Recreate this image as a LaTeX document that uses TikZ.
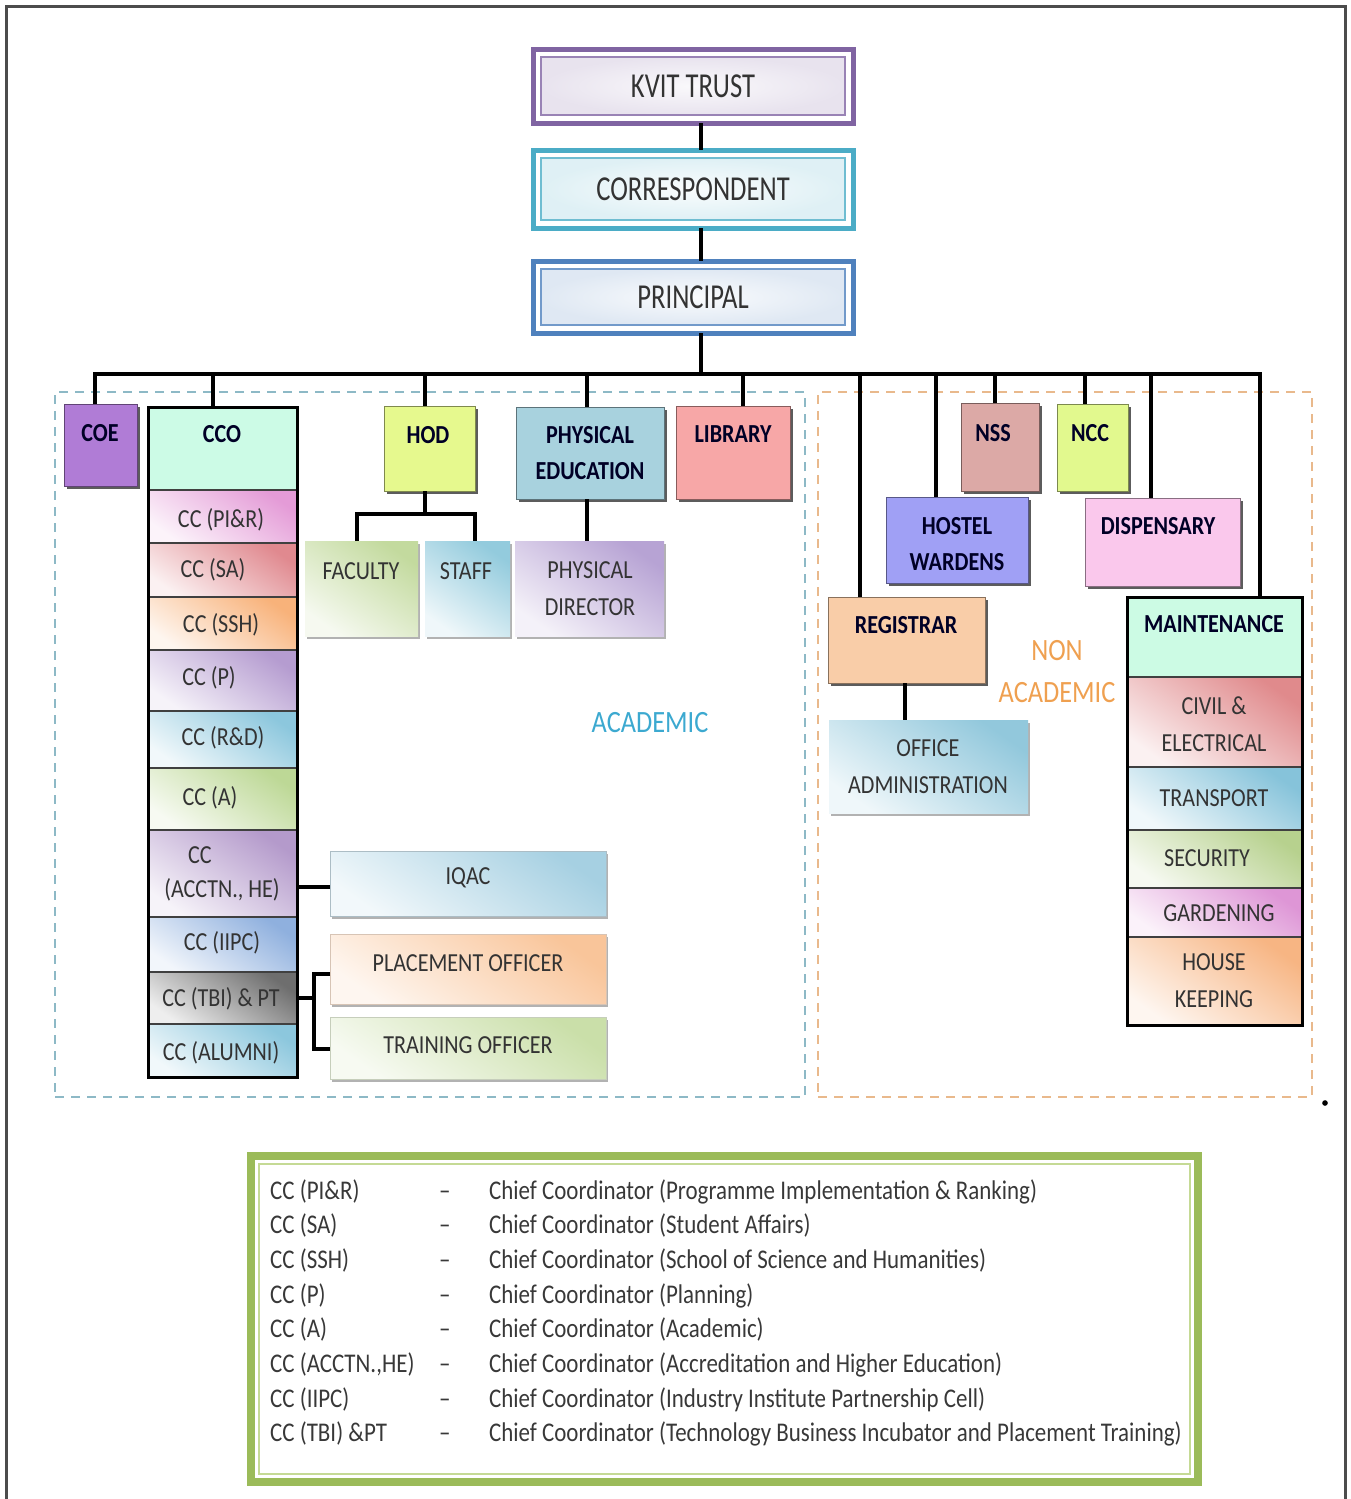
\documentclass[tikz,border=0pt]{standalone}
\usepackage{fontspec}
\setmainfont{Carlito}[FakeStretch=0.85]
\newfontfamily\condfont{Carlito}[FakeStretch=0.76]
\usetikzlibrary{fit,shadows,calc}
\definecolor{kvitc}{HTML}{8064A2}
\definecolor{corrc}{HTML}{4BACC6}
\definecolor{princc}{HTML}{4F81BD}
\definecolor{coec}{HTML}{B07CD6}
\definecolor{ccoc}{HTML}{CCFBE6}
\definecolor{hodc}{HTML}{E6F98E}
\definecolor{pec}{HTML}{A8D2DE}
\definecolor{libc}{HTML}{F7A7A7}
\definecolor{nssc}{HTML}{DCA9A6}
\definecolor{nccc}{HTML}{E2F98E}
\definecolor{hostc}{HTML}{A0A0F5}
\definecolor{dispc}{HTML}{FAC8EC}
\definecolor{regc}{HTML}{F9CDA8}
\definecolor{maintc}{HTML}{CCFBE4}
\definecolor{c1}{HTML}{E49BD7}
\definecolor{c2}{HTML}{E0898F}
\definecolor{c3}{HTML}{F8B27A}
\definecolor{c4}{HTML}{B59CD0}
\definecolor{c5}{HTML}{8CC7DD}
\definecolor{c6}{HTML}{BDD896}
\definecolor{c7}{HTML}{B49ACB}
\definecolor{c8}{HTML}{8FB0DE}
\definecolor{c9}{HTML}{6E6E6E}
\definecolor{facc}{HTML}{C3DA9E}
\definecolor{staffc}{HTML}{93CBDD}
\definecolor{pdc}{HTML}{B7A3D4}
\definecolor{iqc}{HTML}{A6D0E2}
\definecolor{plc}{HTML}{F9C59A}
\definecolor{trc}{HTML}{CADFA9}
\definecolor{offc}{HTML}{92C8DC}
\definecolor{m1}{HTML}{E08A8C}
\definecolor{m2}{HTML}{86C3DA}
\definecolor{m3}{HTML}{B7D18E}
\definecolor{m4}{HTML}{DE96D6}
\definecolor{m5}{HTML}{F7B583}
\definecolor{acadc}{HTML}{3CA9D0}
\definecolor{nonc}{HTML}{EFA050}
\definecolor{acadline}{HTML}{8DB9C6}
\definecolor{nonline}{HTML}{E9B98C}
\definecolor{legc}{HTML}{9BBB59}
\definecolor{legin}{HTML}{C5DA95}
\definecolor{txt}{HTML}{333333}
\begin{document}
\begin{tikzpicture}[x=1pt,y=-1pt,
  conn/.style={line width=3.5pt, black, line join=miter},
  fitbox/.style={inner sep=0pt, outer sep=0pt},
  obox/.style={fitbox, draw=#1!55!black, fill=#1, line width=1pt,
    drop shadow={shadow xshift=2.5pt, shadow yshift=-3pt, opacity=0.75, fill=black!85}},
  gbox/.style={fitbox, top color=#1, bottom color=#1!15!white, shading angle=-35,
    drop shadow={shadow xshift=2pt, shadow yshift=-3pt, opacity=0.3, fill=black}},
  cell/.style={fitbox, top color=#1, bottom color=#1!12!white, shading angle=-35,
    draw=black!75, line width=1.2pt},
  blbl/.style={font=\bfseries\fontsize{26}{36}\selectfont, text=black!85!blue, align=center, inner sep=0pt},
  rlbl/.style={font=\fontsize{26}{37}\selectfont, text=txt, align=center, inner sep=0pt},
  toplbl/.style={font=\condfont\fontsize{35}{40}\selectfont, text=txt, inner sep=0pt},
  leg/.style={font=\fontsize{27}{30}\selectfont, text=black!78, anchor=base west, inner sep=0pt},
  frame/.style={fitbox, draw=black, line width=3pt},
]
\useasboundingbox (0,0) rectangle (1351,1499);
% page frame
\node[fit={(6,6)(1345,1520)}, fitbox, draw=black!70, line width=3pt] (page) {};

% regions
\node[fit={(55,392)(805,1097)}, fitbox, draw=acadline, line width=2.5pt, dash pattern=on 9pt off 7pt] (acad) {};
\node[fit={(818,392)(1312,1097)}, fitbox, draw=nonline, line width=2.5pt, dash pattern=on 9pt off 7pt] (nonacad) {};
\node[font=\fontsize{31}{36}\selectfont, text=acadc, inner sep=0pt] (acadt) at (650,723) {ACADEMIC};
\node[font=\fontsize{31}{42}\selectfont, text=nonc, align=center, inner sep=0pt] (nont) at (1057,672) {NON\\ACADEMIC};

% top boxes
\node[fit={(533,49)(853,123)}, fitbox, draw=kvitc, line width=5pt, fill=white] (kvit) {};
\node[fit={(541,57)(845,115)}, fitbox, draw=kvitc!80, line width=1.5pt, inner color=kvitc!4, outer color=kvitc!18] (kvitin) {};
\node[toplbl] (kvitt) at (kvit) {KVIT TRUST};
\node[fit={(533,150)(853,228)}, fitbox, draw=corrc, line width=5pt, fill=white] (corr) {};
\node[fit={(541,158)(845,220)}, fitbox, draw=corrc!80, line width=1.5pt, inner color=corrc!3, outer color=corrc!18] (corrin) {};
\node[toplbl] (corrt) at (corr) {CORRESPONDENT};
\node[fit={(533,261)(853,333)}, fitbox, draw=princc, line width=5pt, fill=white] (princ) {};
\node[fit={(541,269)(845,325)}, fitbox, draw=princc!80, line width=1.5pt, inner color=princc!3, outer color=princc!18] (princin) {};
\node[toplbl] (princt) at (princ) {PRINCIPAL};

% connectors
\coordinate (tx) at (701,0);
\draw[conn] (kvit.south -| tx) -- (corr.north -| tx);
\draw[conn] (corr.south -| tx) -- (princ.north -| tx);
\coordinate (bus) at (701,374);
\draw[conn] (princ.south -| tx) -- (bus);
\coordinate (b1) at (95,374);
\coordinate (b2) at (213,374);
\coordinate (b3) at (425,374);
\coordinate (b4) at (587,374);
\coordinate (b5) at (743,374);
\coordinate (b6) at (860,374);
\coordinate (b7) at (936,374);
\coordinate (b8) at (995,374);
\coordinate (b9) at (1085,374);
\coordinate (b10) at (1151,374);
\coordinate (b11) at (1260,374);

% first-level boxes
\node[fit={(64,404)(137,486)}, obox=coec] (coe) {};
\node[blbl] (coet) at (100,433) {COE};
\node[fit={(384,406)(475,491)}, obox=hodc] (hod) {};
\node[blbl] (hodt) at (428,435) {HOD};
\node[fit={(516,407)(664,499)}, obox=pec] (phed) {};
\node[blbl] (phedt) at (590,453) {PHYSICAL\\EDUCATION};
\node[fit={(676,406)(790,499)}, obox=libc] (lib) {};
\node[blbl] (libt) at (733,434) {LIBRARY};
\node[fit={(961,403)(1039,491)}, obox=nssc] (nss) {};
\node[blbl] (nsst) at (993,433) {NSS};
\node[fit={(1057,404)(1128,491)}, obox=nccc] (ncc) {};
\node[blbl] (ncct) at (1090,433) {NCC};
\node[fit={(886,497)(1028,583)}, obox=hostc] (host) {};
\node[blbl] (hostt) at (957,544) {HOSTEL\\WARDENS};
\node[fit={(1085,498)(1240,586)}, obox=dispc] (disp) {};
\node[blbl] (dispt) at (1158,526) {DISPENSARY};
\node[fit={(828,597)(985,683)}, obox=regc] (reg) {};
\node[blbl] (regt) at (906,625) {REGISTRAR};

% bus and branches
\draw[conn] (coe.north -| b1) -- (b1) -- (b11) -- (b11 |- 0,597);
\draw[conn] (b2) -- (b2 |- 0,407);
\draw[conn] (b3) -- (hod.north -| b3);
\draw[conn] (b4) -- (phed.north -| b4);
\draw[conn] (b5) -- (lib.north -| b5);
\draw[conn] (b6) -- (reg.north -| b6);
\draw[conn] (b7) -- (host.north -| b7);
\draw[conn] (b8) -- (nss.north -| b8);
\draw[conn] (b9) -- (ncc.north -| b9);
\draw[conn] (b10) -- (disp.north -| b10);

% CCO column
\node[fit={(148,407)(297,490)}, fitbox, fill=ccoc] (cco) {};
\node[blbl] (ccot) at (222,434) {CCO};
\node[fit={(148,490)(297,543)}, cell=c1] (cc1) {};
\node[fit={(148,543)(297,597)}, cell=c2] (cc2) {};
\node[fit={(148,597)(297,650)}, cell=c3] (cc3) {};
\node[fit={(148,650)(297,711)}, cell=c4] (cc4) {};
\node[fit={(148,711)(297,768)}, cell=c5] (cc5) {};
\node[fit={(148,768)(297,830)}, cell=c6] (cc6) {};
\node[fit={(148,830)(297,917)}, cell=c7] (cc7) {};
\node[fit={(148,917)(297,972)}, cell=c8] (cc8) {};
\node[fit={(148,972)(297,1024)}, cell=c9] (cc9) {};
\node[fit={(148,1024)(297,1077)}, cell=c5] (cc10) {};
\node[fit={(148,407)(297,1077)}, frame] (ccoframe) {};
\node[rlbl] (cc1t) at (221,520) {CC (PI\&R)};
\node[rlbl] (cc2t) at (213,570) {CC (SA)};
\node[rlbl] (cc3t) at (221,625) {CC (SSH)};
\node[rlbl] (cc4t) at (209,678) {CC (P)};
\node[rlbl] (cc5t) at (223,738) {CC (R\&D)};
\node[rlbl] (cc6t) at (210,798) {CC (A)};
\node[rlbl] (cc7t) at (200,855) {CC};
\node[rlbl] (cc7u) at (222,890) {(ACCTN., HE)};
\node[rlbl] (cc8t) at (222,943) {CC (IIPC)};
\node[rlbl] (cc9t) at (221,999) {CC (TBI) \& PT};
\node[rlbl] (cc10t) at (221,1053) {CC (ALUMNI)};

% HOD / PE children
\node[fit={(305,541)(418,636)}, gbox=facc] (fac) {};
\node[rlbl] (fact) at (361,571) {FACULTY};
\node[fit={(425,541)(510,636)}, gbox=staffc] (staff) {};
\node[rlbl] (stafft) at (466,571) {STAFF};
\node[fit={(515,541)(664,636)}, gbox=pdc] (pd) {};
\node[rlbl] (pdt) at (590,589) {PHYSICAL\\DIRECTOR};
\coordinate (hj) at (425,514);
\coordinate (hf) at (357,514);
\coordinate (hs) at (475,514);
\draw[conn] (hod.south -| hj) -- (hj);
\draw[conn] (fac.north -| hf) -- (hf) -- (hs) -- (staff.north -| hs);
\coordinate (pe) at (587,0);
\draw[conn] (phed.south -| pe) -- (pd.north -| pe);

% IQAC, placement, training
\node[fit={(330,851)(606,916)}, gbox=iqc, draw=iqc!70!black!60, line width=0.8pt] (iqac) {};
\node[rlbl] (iqact) at (468,878) {IQAC};
\node[fit={(330,934)(606,1004)}, gbox=plc, draw=plc!70!black!50, line width=0.8pt] (place) {};
\node[rlbl] (placet) at (468,963) {PLACEMENT OFFICER};
\node[fit={(330,1017)(606,1079)}, gbox=trc, draw=trc!70!black!50, line width=0.8pt] (train) {};
\node[rlbl] (traint) at (468,1045) {TRAINING OFFICER};
\coordinate (iq) at (298,887);
\draw[conn] (iq) -- (iq -| iqac.west);
\coordinate (tj) at (298,998);
\coordinate (tv) at (314,998);
\coordinate (pl) at (314,974);
\coordinate (tr) at (314,1049);
\draw[conn] (tj) -- (tv);
\draw[conn] (place.west |- pl) -- (pl) -- (tr) -- (train.west |- tr);

% Registrar child
\node[fit={(829,720)(1028,813)}, gbox=offc] (office) {};
\node[rlbl] (officet) at (928,767) {OFFICE\\ADMINISTRATION};
\coordinate (ro) at (905,0);
\draw[conn] (reg.south -| ro) -- (office.north -| ro);

% Maintenance column
\node[fit={(1127,597)(1302,677)}, fitbox, fill=maintc] (maint) {};
\node[blbl] (maintt) at (1214,624) {MAINTENANCE};
\node[fit={(1127,677)(1302,767)}, cell=m1] (mt1) {};
\node[fit={(1127,767)(1302,830)}, cell=m2] (mt2) {};
\node[fit={(1127,830)(1302,888)}, cell=m3] (mt3) {};
\node[fit={(1127,888)(1302,937)}, cell=m4] (mt4) {};
\node[fit={(1127,937)(1302,1025)}, cell=m5] (mt5) {};
\node[fit={(1127,597)(1302,1025)}, frame] (mframe) {};
\node[rlbl] (mt1t) at (1214,724) {CIVIL \&\\ELECTRICAL};
\node[rlbl] (mt2t) at (1214,798) {TRANSPORT};
\node[rlbl] (mt3t) at (1207,858) {SECURITY};
\node[rlbl] (mt4t) at (1219,913) {GARDENING};
\node[rlbl] (mt5t) at (1214,981) {HOUSE\\KEEPING};
\node[fit={(1323,1101)(1327,1105)}, fitbox, fill=black, circle] (dot) {};

% legend
\node[fit={(251,1156)(1198,1482)}, fitbox, draw=legc, line width=8pt] (legend) {};
\node[fit={(259,1164)(1190,1474)}, fitbox, draw=legin, line width=2pt] (legendin) {};
\foreach \i/\a/\d in {
  0/{CC (PI\&R)}/{Chief Coordinator (Programme Implementation \& Ranking)},
  1/{CC (SA)}/{Chief Coordinator (Student Affairs)},
  2/{CC (SSH)}/{Chief Coordinator (School of Science and Humanities)},
  3/{CC (P)}/{Chief Coordinator (Planning)},
  4/{CC (A)}/{Chief Coordinator (Academic)},
  5/{CC (ACCTN.,HE)}/{Chief Coordinator (Accreditation and Higher Education)},
  6/{CC (IIPC)}/{Chief Coordinator (Industry Institute Partnership Cell)},
  7/{CC (TBI) \&PT}/{Chief Coordinator (Technology Business Incubator and Placement Training)}}{
  \node[leg] (la\i) at (270,1199+34.7*\i) {\a};
  \node[leg] (ld\i) at (439,1199+34.7*\i) {–};
  \node[leg] (le\i) at (489,1199+34.7*\i) {\d};
}
\end{tikzpicture}
\end{document}
